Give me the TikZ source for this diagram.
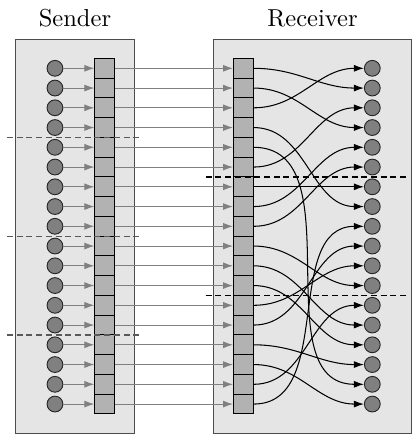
\documentclass[tikz,border=0pt]{standalone}
\usetikzlibrary{arrows.meta, positioning}
\begin{document}
\begin{tikzpicture}[node distance=0.05cm, font=\fontsize{10.6}{12}\selectfont,
    panel/.style={draw=black!70, fill=black!10, rectangle, minimum width=#1, minimum height=5.988cm, inner sep=0pt},
    cell/.style={draw, fill=black!30, rectangle, minimum width=0.3cm, minimum height=0.3cm, inner sep=0pt},
    ball/.style={draw=black!85, fill=black!50, circle, minimum size=0.24cm, inner sep=0pt},
    garrow/.style={-{Latex[length=4.3pt,width=3pt]}, black!50},
    barrow/.style={-{Latex[length=4.3pt,width=3pt]}, black, line width=0.45pt},
    cut/.style={dash pattern=on 2.6pt off 1.6pt, line width=0.55pt}]
    \useasboundingbox (0,-5.870) rectangle (6.289,0.7375);
    % 两个框
    \node[panel=1.802cm] (ps) at (1.139,-2.853) {};
    \node[panel=3.014cm] (pr) at (4.747,-2.853) {};
    \node[above=of ps] (lsend) {Sender};
    \node[above=of pr] (lrecv) {Receiver};
    % 每一行: 圆点, 格子
    \foreach \i in {1,...,18} {
        \node[ball] (s\i) at (0.835,-0.3*\i) {};
        \node[cell] (a\i) at (1.590,-0.3*\i) {};
        \node[cell] (b\i) at (3.696,-0.3*\i) {};
        \node[ball] (r\i) at (5.655,-0.3*\i) {};
        \draw[garrow] (s\i) -- (a\i);
        \draw[garrow] (a\i) -- (b\i);
    }
    % 重排
    \foreach \j [count=\i] in {2,4,1,8,17,3,7,5,6,12,14,15,11,10,16,18,13,9} {
        \draw[barrow] (b\i.east) to[out=0, in=180] (r\j.west);
    }
    % 分段
    \foreach \y in {-1.35,-2.85,-4.35} {
        \draw[cut, black!65] (0.106,\y) -- (2.172,\y);
    }
    \foreach \y in {-1.95,-3.75} {
        \draw[cut] (3.125,\y) -- (6.213,\y);
    }
\end{tikzpicture}
\end{document}
